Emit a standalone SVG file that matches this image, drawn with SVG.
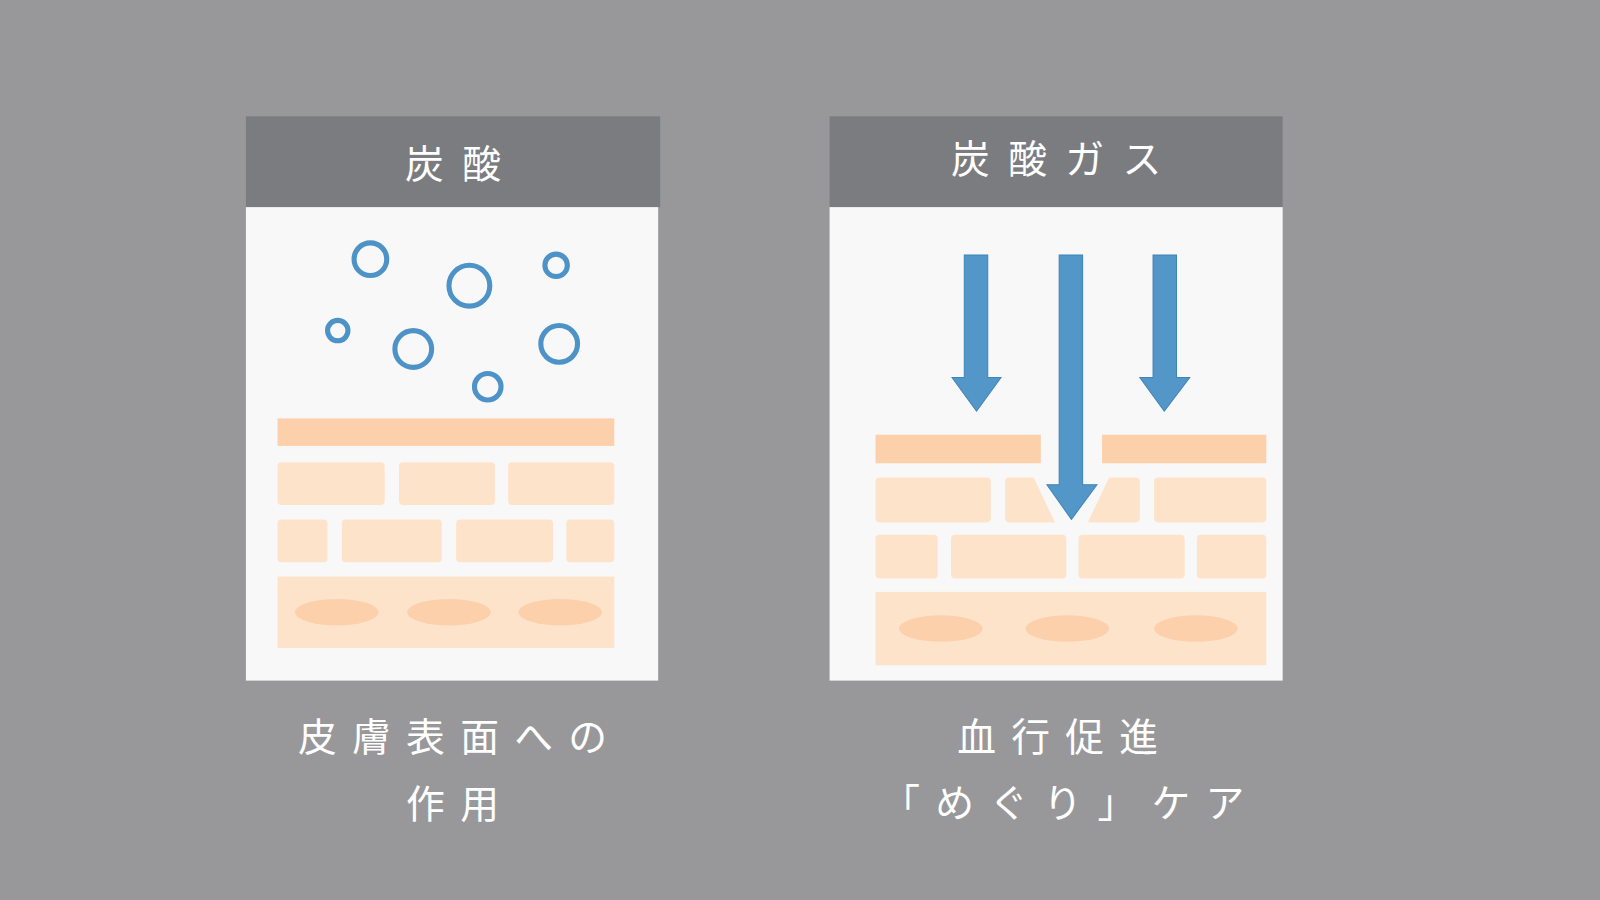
<svg xmlns="http://www.w3.org/2000/svg" width="1600" height="900" viewBox="0 0 1600 900">
<style>
.hd{fill:#7b7c80}.bd{fill:#f8f8f8}
.t{font-family:"Noto Sans CJK JP",sans-serif;fill:#fff;text-anchor:middle}
.h{font-size:38px;letter-spacing:18px}
.c{font-size:38px;letter-spacing:15px}
.b{fill:none;stroke:#4d93c7;stroke-width:5}
.s1{fill:#fdd0ac}.s2{fill:#fee3cb}.e{fill:#fdd0ac}
.ar{fill:#5297c8;stroke:#3f84b8;stroke-width:1}
</style>
<rect width="1600" height="900" fill="#98989a"/>
<g transform="scale(1.0204)">
<g id="left">
<rect class="hd" x="241" y="114" width="406" height="89"/>
<rect class="bd" x="241" y="203" width="404" height="464"/>
<text class="t h" x="453" y="174">炭酸</text>
<circle class="b" cx="363" cy="254" r="16"/>
<circle class="b" cx="460" cy="280" r="20"/>
<circle class="b" cx="545" cy="260" r="11"/>
<circle class="b" cx="331" cy="324" r="10"/>
<circle class="b" cx="405" cy="342" r="18"/>
<circle class="b" cx="548" cy="337" r="18"/>
<circle class="b" cx="478" cy="379" r="13"/>
<rect class="s1" x="272" y="410" width="330" height="27"/>
<rect class="s2" x="272" y="453" width="105" height="42" rx="4"/>
<rect class="s2" x="391" y="453" width="94" height="42" rx="4"/>
<rect class="s2" x="498" y="453" width="104" height="42" rx="4"/>
<rect class="s2" x="272" y="509" width="49" height="42" rx="4"/>
<rect class="s2" x="335" y="509" width="98" height="42" rx="4"/>
<rect class="s2" x="447" y="509" width="95" height="42" rx="4"/>
<rect class="s2" x="555" y="509" width="47" height="42" rx="4"/>
<rect class="s2" x="272" y="565" width="330" height="70"/>
<ellipse class="e" cx="330" cy="600" rx="41" ry="13"/>
<ellipse class="e" cx="440" cy="600" rx="41" ry="13"/>
<ellipse class="e" cx="549" cy="600" rx="41" ry="13"/>
<text class="t c" x="451" y="736">皮膚表面への</text>
<text class="t c" x="451" y="802">作用</text>
</g>
<g id="right">
<rect class="hd" x="813" y="114" width="444" height="89"/>
<rect class="bd" x="813" y="203" width="444" height="464"/>
<text class="t h" x="1044" y="170">炭酸ガス</text>
<rect class="s1" x="858" y="426" width="162" height="28"/>
<rect class="s1" x="1080" y="426" width="161" height="28"/>
<rect class="s2" x="858" y="468" width="113" height="44" rx="4"/>
<path class="s2" d="M989,468 H1013 L1034,512 H989 a4,4 0 0 1 -4,-4 V472 a4,4 0 0 1 4,-4Z"/>
<path class="s2" d="M1087,468 H1113 a4,4 0 0 1 4,4 V508 a4,4 0 0 1 -4,4 H1066Z"/>
<rect class="s2" x="1131" y="468" width="110" height="44" rx="4"/>
<rect class="s2" x="858" y="524" width="61" height="43" rx="4"/>
<rect class="s2" x="932" y="524" width="113" height="43" rx="4"/>
<rect class="s2" x="1057" y="524" width="104" height="43" rx="4"/>
<rect class="s2" x="1173" y="524" width="68" height="43" rx="4"/>
<rect class="s2" x="858" y="580" width="383" height="72"/>
<ellipse class="e" cx="922" cy="616" rx="41" ry="13"/>
<ellipse class="e" cx="1046" cy="616" rx="41" ry="13"/>
<ellipse class="e" cx="1172" cy="616" rx="41" ry="13"/>
<text class="t c" x="1044" y="736">血行促進</text>
<text class="t c" x="1049" y="801">「めぐり」ケア</text>
</g>
<g id="connectors">
<path class="ar" d="M945,250 H968 V370 H981 L957,403 L933,370 H945Z"/>
<path class="ar" d="M1038,250 H1061 V475 H1075 L1050,509 L1026,475 H1038Z"/>
<path class="ar" d="M1130,250 H1153 V370 H1166 L1141,403 L1117,370 H1130Z"/>
</g>
</g>
</svg>
